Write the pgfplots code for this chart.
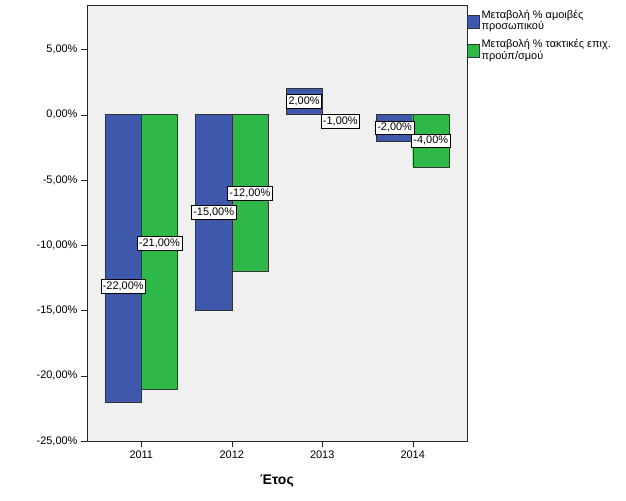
\documentclass[border=0pt]{standalone}
\usepackage{fontspec}
\setmainfont{Liberation Sans}
\usepackage{pgfplots}
\pgfplotsset{compat=1.18}
\definecolor{sblue}{HTML}{3E58AC}
\definecolor{sgreen}{HTML}{2EB848}
\definecolor{sbg}{HTML}{F0F0F0}
\tikzset{lab/.style={draw=black, fill=white, inner xsep=2bp, inner ysep=2.4bp, font=\fontsize{11}{12}\selectfont}}
\begin{document}
\begin{tikzpicture}
\useasboundingbox (0,0) rectangle (626bp,501bp);
\begin{axis}[
  at={(87bp,60bp)}, anchor=south west,
  scale only axis, width=380bp, height=436bp,
  axis background/.style={fill=sbg},
  axis line style={black!85},
  xmin=-0.6, xmax=3.6, ymin=-25, ymax=8.4,
  xtick={0,1,2,3}, xticklabels={2011,2012,2013,2014},
  ytick={-25,-20,-15,-10,-5,0,5},
  yticklabels={{-25,00\%},{-20,00\%},{-15,00\%},{-10,00\%},{-5,00\%},{0,00\%},{5,00\%}},
  tick align=outside, major tick length=6bp, tick pos=left,
  tick style={black!85},
  ticklabel style={font=\fontsize{11}{12}\selectfont},
  xlabel={Έτος}, xlabel style={font=\fontsize{14}{16}\selectfont\bfseries, yshift=-10bp},
  ybar, bar width=0.4,
  legend style={at={(1,1)}, anchor=north west, yshift=-3bp, draw=none, fill=none,
    font=\fontsize{11}{10.5}\selectfont, row sep=4bp, inner sep=0pt,
    cells={anchor=west, align=left}},
  legend image code/.code={\draw[#1,draw=black!80] (-1bp,-7bp) rectangle (11bp,6bp);},
]
\addplot[fill=sblue, draw=black!80, bar shift=-0.2] coordinates {(0,-22) (1,-15) (2,2) (3,-2)};
\addlegendentry{Μεταβολή \% αμοιβές\\προσωπικού}
\addplot[fill=sgreen, draw=black!80, bar shift=0.2] coordinates {(0,-21) (1,-12) (2,-1) (3,-4)};
\addlegendentry{Μεταβολή \% τακτικές επιχ.\\προύπ/σμού}
\node[lab] at (axis cs:-0.2,-13.15) {-22,00\%};
\node[lab] at (axis cs:0.2,-9.85) {-21,00\%};
\node[lab] at (axis cs:0.8,-7.5) {-15,00\%};
\node[lab] at (axis cs:1.2,-6) {-12,00\%};
\node[lab] at (axis cs:1.8,1) {2,00\%};
\node[lab] at (axis cs:2.2,-0.5) {-1,00\%};
\node[lab] at (axis cs:2.8,-1) {-2,00\%};
\node[lab] at (axis cs:3.2,-2) {-4,00\%};
\end{axis}
\end{tikzpicture}
\end{document}
